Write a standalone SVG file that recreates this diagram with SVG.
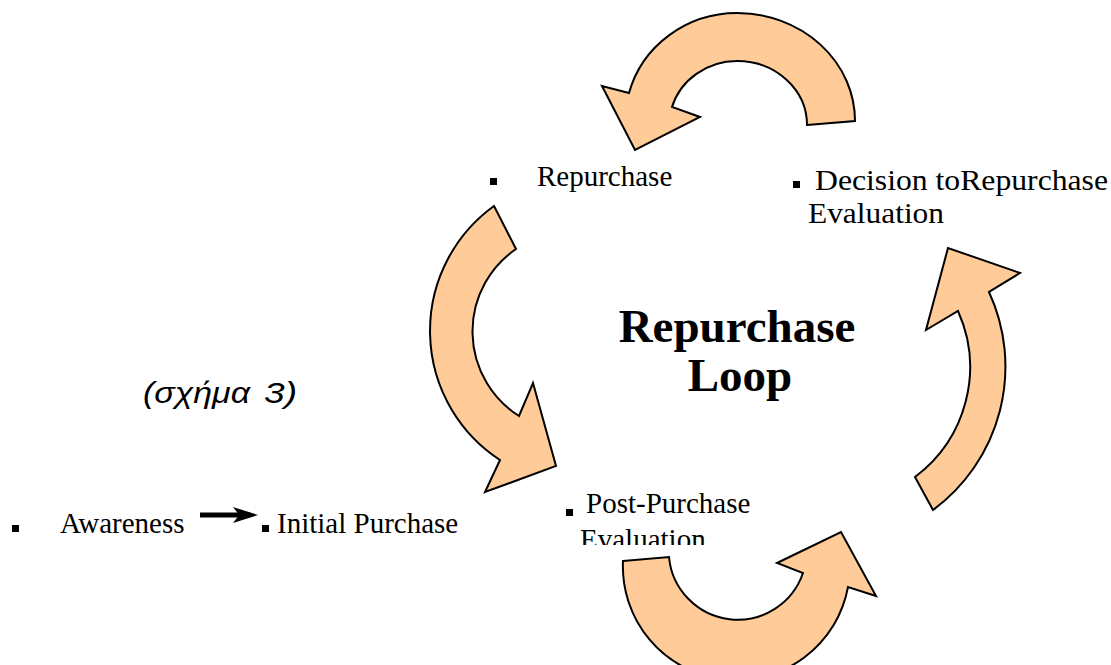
<svg xmlns="http://www.w3.org/2000/svg" width="1111" height="665" viewBox="0 0 1111 665">
  <style>
    .lbl { font-family: "Liberation Serif", "Times New Roman", serif; font-size: 29px; fill: #000; }
    .title { font-family: "Liberation Serif", "Times New Roman", serif; font-size: 47px; font-weight: bold; fill: #000; text-anchor: middle; }
    .caption { font-family: "Liberation Sans", Arial, sans-serif; font-size: 29px; font-style: italic; fill: #000; }
    .bullet { fill: #000; }
    .loop { fill: #FFCC99; stroke: #000; stroke-width: 2; stroke-linejoin: miter; }
  </style>
  <defs>
    <marker id="head" viewBox="0 0 10 6.4" refX="6.8" refY="3.2" markerWidth="5" markerHeight="3.2" markerUnits="strokeWidth" orient="auto">
      <path d="M0,0 L10,3.2 L0,6.4 L2.5,3.2 Z" fill="#000"/>
    </marker>
    <clipPath id="postClip">
      <rect x="540" y="480" width="260" height="65"/>
    </clipPath>
  </defs>

  <rect width="1111" height="665" fill="#fff"/>

  <!-- curved block arrows of the loop, plus the entry arrow -->
  <g id="connectors">
    <!-- top: from Decision back over to Repurchase -->
    <path class="loop" d="M807,125 L855,121 A118 108 0 0 0 737,13 A112 108 0 0 0 629,93 L602,86 L635,150 L700,117 L672,107 A68 64 0 0 1 737,61 A70 64 0 0 1 807,125 Z"/>
    <!-- left: Repurchase down to Post-Purchase -->
    <path class="loop" d="M494,206 L516,249 A100 100 0 0 0 519,416 L533,383 L556,466 L485,492 L500,460 A154 154 0 0 1 494,206 Z"/>
    <!-- bottom: Post-Purchase round to the right -->
    <path class="loop" d="M623,561 L669,557 A69 69 0 0 0 803,573 L777,563 L841,532 L876,596 L848,587 A113.5 113.5 0 0 1 623,561 Z"/>
    <!-- right: up to Decision -->
    <path class="loop" d="M933,510 L915,477 A137 137 0 0 0 958,311 L926,330 L948,248 L1020,273 L989,292 A178 178 0 0 1 933,510 Z"/>
    <!-- Awareness to Initial Purchase -->
    <line x1="200" y1="515" x2="250" y2="515" stroke="#000" stroke-width="5" marker-end="url(#head)"/>
  </g>

  <g id="title">
    <text class="title" x="737" y="342">Repurchase</text>
    <text class="title" x="740" y="391">Loop</text>
  </g>

  <g id="repurchase">
    <rect class="bullet" x="490" y="178" width="7" height="7"/>
    <text class="lbl" x="537" y="186">Repurchase</text>
  </g>

  <g id="decision">
    <rect class="bullet" x="793" y="181" width="7" height="7"/>
    <text class="lbl" x="815" y="190" style="font-size:30px" textLength="293" lengthAdjust="spacingAndGlyphs">Decision toRepurchase</text>
    <text class="lbl" x="808" y="223" style="font-size:30px" textLength="136" lengthAdjust="spacingAndGlyphs">Evaluation</text>
  </g>

  <g id="post-purchase">
    <rect class="bullet" x="566" y="509" width="7" height="7"/>
    <g clip-path="url(#postClip)">
      <text class="lbl" x="586" y="513">Post-Purchase</text>
      <text class="lbl" x="580" y="549">Evaluation</text>
    </g>
  </g>

  <g id="awareness">
    <rect class="bullet" x="12" y="525" width="7" height="7"/>
    <text class="lbl" x="60" y="533">Awareness</text>
  </g>

  <g id="initial-purchase">
    <rect class="bullet" x="262" y="525" width="7" height="7"/>
    <text class="lbl" x="277" y="533">Initial Purchase</text>
  </g>

  <g id="caption">
    <text class="caption" y="403"><tspan x="143" textLength="107" lengthAdjust="spacingAndGlyphs">(σχήμα</tspan><tspan x="264" textLength="33" lengthAdjust="spacingAndGlyphs">3)</tspan></text>
  </g>
</svg>
